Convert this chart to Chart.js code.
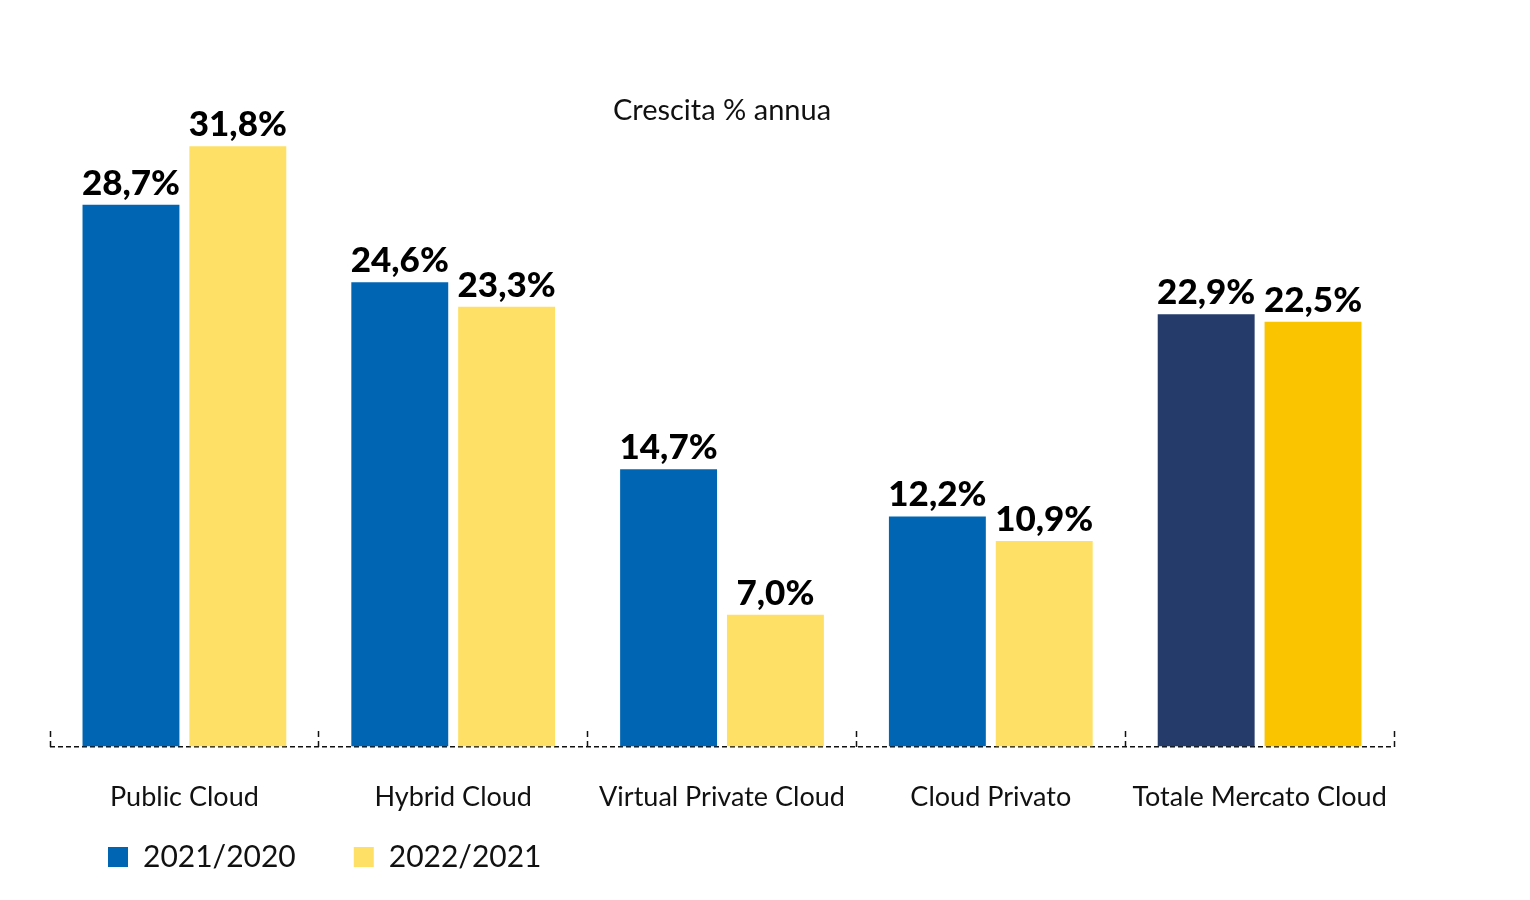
<!DOCTYPE html>
<html>
<head>
<meta charset="utf-8">
<script src="https://cdn.jsdelivr.net/npm/chart.js@4.4.1/dist/chart.umd.min.js"></script>
<style>
  html, body { margin: 0; padding: 0; background: #ffffff; }
  #wrap { width: 1530px; height: 900px; }
</style>
</head>
<body>
<div id="wrap"><canvas id="c" width="1530" height="900"></canvas></div>
<script>
const categories = ['Public Cloud', 'Hybrid Cloud', 'Virtual Private Cloud', 'Cloud Privato', 'Totale Mercato Cloud'];
const seriesNames = ['2021/2020', '2022/2021'];
const growth2021 = [28.7, 24.6, 14.7, 12.2, 22.9];
const growth2022 = [31.8, 23.3, 7.0, 10.9, 22.5];
const chartTitle = 'Crescita % annua';

const BLUE = '#0066B3', NAVY = '#253C6B', YELLOW = '#FEE066', GOLD = '#FBC400';
const colors1 = categories.map((c, i) => i === categories.length - 1 ? NAVY : BLUE);
const colors2 = categories.map((c, i) => i === categories.length - 1 ? GOLD : YELLOW);

const valueLabels = {
  id: 'valueLabels',
  afterDatasetsDraw(chart) {
    const ctx = chart.ctx;
    ctx.save();
    ctx.font = '900 35px Lato, "DejaVu Sans", sans-serif';
    ctx.fillStyle = '#000';
    ctx.textAlign = 'center';
    ctx.textBaseline = 'alphabetic';
    chart.data.datasets.forEach((ds, di) => {
      const meta = chart.getDatasetMeta(di);
      meta.data.forEach((bar, i) => {
        const txt = ds.data[i].toFixed(1).replace('.', ',') + '%';
        ctx.fillText(txt, bar.x, bar.y - 10);
      });
    });
    ctx.restore();
  }
};

new Chart(document.getElementById('c'), {
  type: 'bar',
  data: {
    labels: categories,
    datasets: [
      { label: seriesNames[0], data: growth2021, backgroundColor: colors1, barPercentage: 0.907, categoryPercentage: 0.795 },
      { label: seriesNames[1], data: growth2022, backgroundColor: colors2, barPercentage: 0.907, categoryPercentage: 0.795 }
    ]
  },
  options: {
    responsive: false,
    animation: false,
    layout: { padding: { left: 50, right: 136, top: 0, bottom: 18 } },
    scales: {
      y: {
        display: true, min: 0, max: 32.77,
        ticks: { display: false },
        border: { display: false, dash: [5, 3] },
        grid: { drawTicks: false, lineWidth: 1.5, color: (c) => (c.tick && c.tick.value === 0) ? '#111' : 'rgba(0,0,0,0)' },
        afterFit(scale) { scale.width = 0; }
      },
      x: {
        offset: true,
        border: { display: false },
        grid: { offset: true, drawOnChartArea: false, drawTicks: true, tickLength: -16, tickColor: '#111', tickWidth: 1.5, tickBorderDash: [6, 4] },
        ticks: { color: '#111', mirror: true, padding: -66, maxRotation: 0, minRotation: 0, autoSkip: false, font: { family: 'Lato, "Noto Sans", sans-serif', size: 27 } },
        afterFit(scale) { scale.height = 37; scale.paddingLeft = 0; scale.paddingRight = 0; }
      }
    },
    plugins: {
      title: { display: true, text: chartTitle, color: '#111', padding: { top: 93, bottom: 0 }, font: { family: 'Lato, "Noto Sans", sans-serif', size: 29, weight: 'normal' } },
      legend: {
        position: 'bottom', align: 'start',
        labels: {
          padding: 58, boxWidth: 20, boxHeight: 20, color: '#111',
          font: { family: 'Lato, "Noto Sans", sans-serif', size: 30 },
          generateLabels(chart) {
            return chart.data.datasets.map((ds, i) => ({ text: ds.label, fillStyle: i === 0 ? BLUE : YELLOW, strokeStyle: 'transparent', lineWidth: 0, datasetIndex: i, fontColor: '#111' }));
          }
        }
      },
      tooltip: { enabled: false }
    }
  },
  plugins: [valueLabels]
});
</script>
</body>
</html>
